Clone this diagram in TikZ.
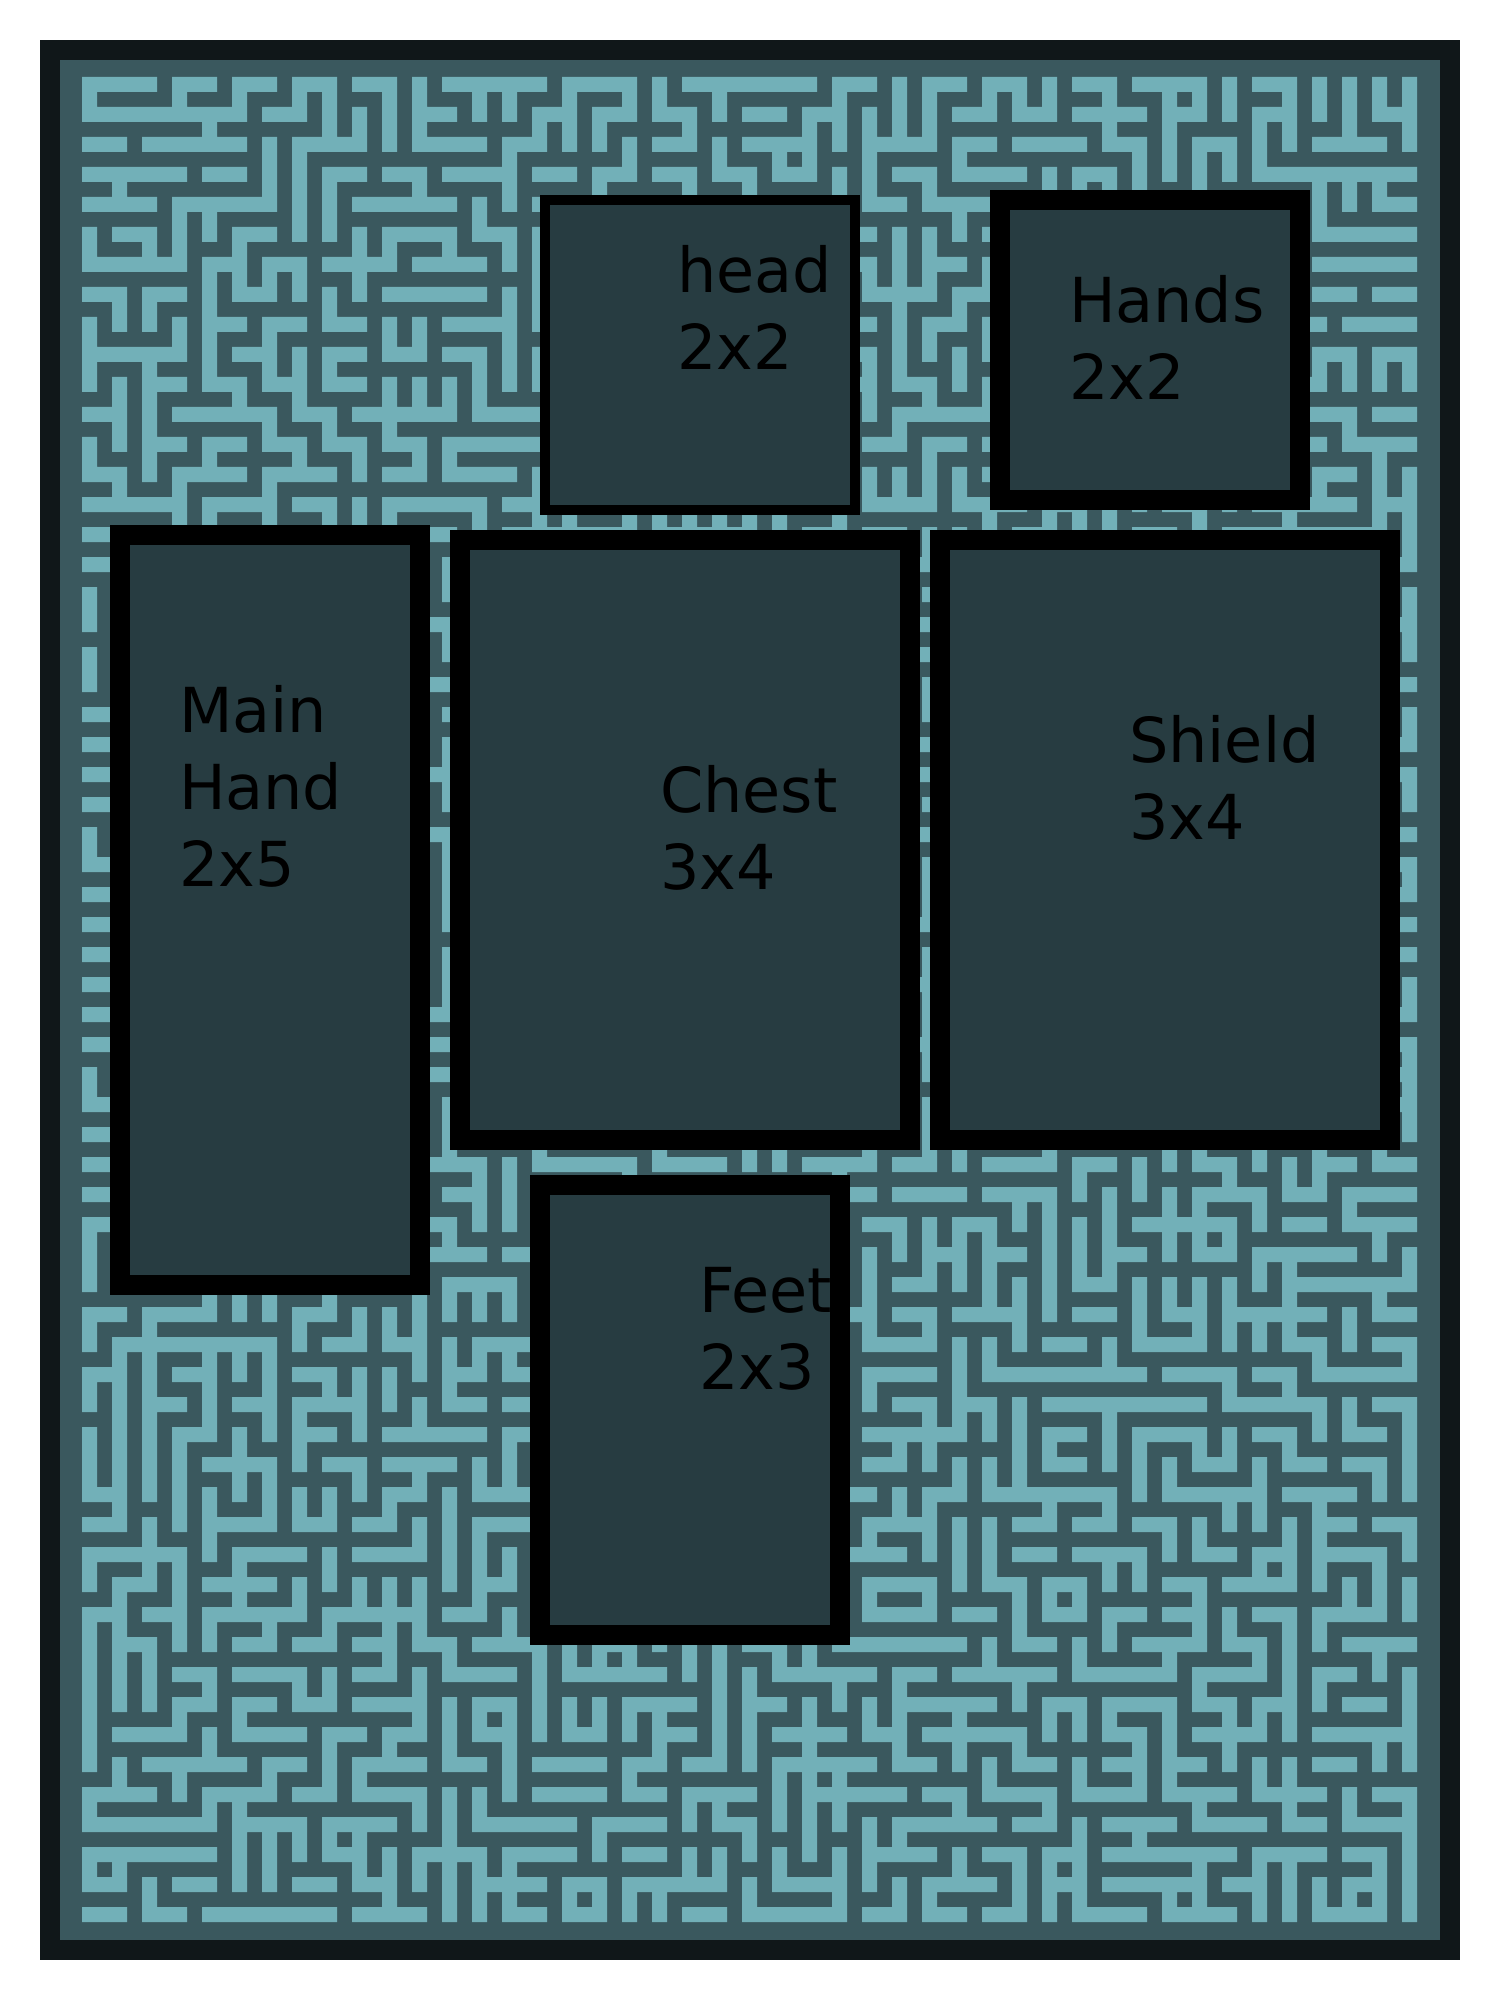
\documentclass[tikz,border=0pt]{standalone}
\usepackage{fontspec}
\setmainfont{DejaVu Sans}
\definecolor{mframe}{RGB}{16,23,25}
\definecolor{mdark}{RGB}{58,88,94}
\definecolor{mlight}{RGB}{114,176,184}
\definecolor{boxfill}{RGB}{39,60,65}
\tikzset{
  slot/.style={draw=black, fill=boxfill, rectangle, inner sep=0pt, outer sep=0pt, line width=10pt},
  thinslot/.style={slot, line width=5pt},
  lbl/.style={anchor=base west, inner sep=0pt, outer sep=0pt, text=black, font=\fontsize{31}{38.5}\selectfont}
}
\begin{document}
\begin{tikzpicture}[x=0.5pt,y=-0.5pt]
\useasboundingbox (0,0) rectangle (1500,2000);
\fill[white] (0,0) rectangle (1500,2000);
% frame
\fill[mframe] (40,40) rectangle (1460,1960);
\fill[mdark] (60,60) rectangle (1440,1940);
% maze texture
\pgfmathsetseed{4711}
\fill[mlight]
  \foreach \i in {0,...,44}{
    \foreach \j in {0,...,61}{
      \pgfextra{%
        \pgfmathtruncatemacro\rr{random(4)}%
        \ifnum\rr=1 \ifnum\i=44 \def\rr{2}\fi\fi
        \ifnum\rr=2 \ifnum\i=0 \def\rr{1}\fi\fi
        \ifnum\rr=3 \ifnum\j=61 \def\rr{4}\fi\fi
        \ifnum\rr=4 \ifnum\j=0 \def\rr{3}\fi\fi
        \edef\xa{\the\numexpr82+30*\i\relax}%
        \edef\ya{\the\numexpr77+30*\j\relax}%
        \edef\xb{\the\numexpr\xa+15\relax}%
        \edef\yb{\the\numexpr\ya+15\relax}%
        \ifcase\rr\or
          \edef\xb{\the\numexpr\xa+45\relax}\or
          \edef\xa{\the\numexpr\xa-30\relax}\or
          \edef\yb{\the\numexpr\ya+45\relax}\or
          \edef\ya{\the\numexpr\ya-30\relax}\fi
      }
      (\xa,\ya) rectangle (\xb,\yb)
    }
  };
% slots
\node[thinslot, minimum width=155pt, minimum height=155pt] (head) at (700,355) {};
\node[slot, minimum width=150pt, minimum height=150pt] (hands) at (1150,350) {};
\node[slot, minimum width=150pt, minimum height=375pt] (mainhand) at (270,910) {};
\node[slot, minimum width=225pt, minimum height=300pt] (chest) at (685,840) {};
\node[slot, minimum width=225pt, minimum height=300pt] (shield) at (1165,840) {};
\node[slot, minimum width=150pt, minimum height=225pt] (feet) at (690,1410) {};
% labels
\node[lbl] (headtxt) at (677,293) {\vtop{\hbox{head}\hbox{2x2}}};
\node[lbl] (handstxt) at (1069,323) {\vtop{\hbox{Hands}\hbox{2x2}}};
\node[lbl] (maintxt) at (179,732) {\vtop{\hbox{Main}\hbox{Hand}\hbox{2x5}}};
\node[lbl] (chesttxt) at (660,812) {\vtop{\hbox{Chest}\hbox{3x4}}};
\node[lbl] (shieldtxt) at (1129,762) {\vtop{\hbox{Shield}\hbox{3x4}}};
\node[lbl] (feettxt) at (699,1312) {\vtop{\hbox{Feet}\hbox{2x3}}};
\end{tikzpicture}
\end{document}
